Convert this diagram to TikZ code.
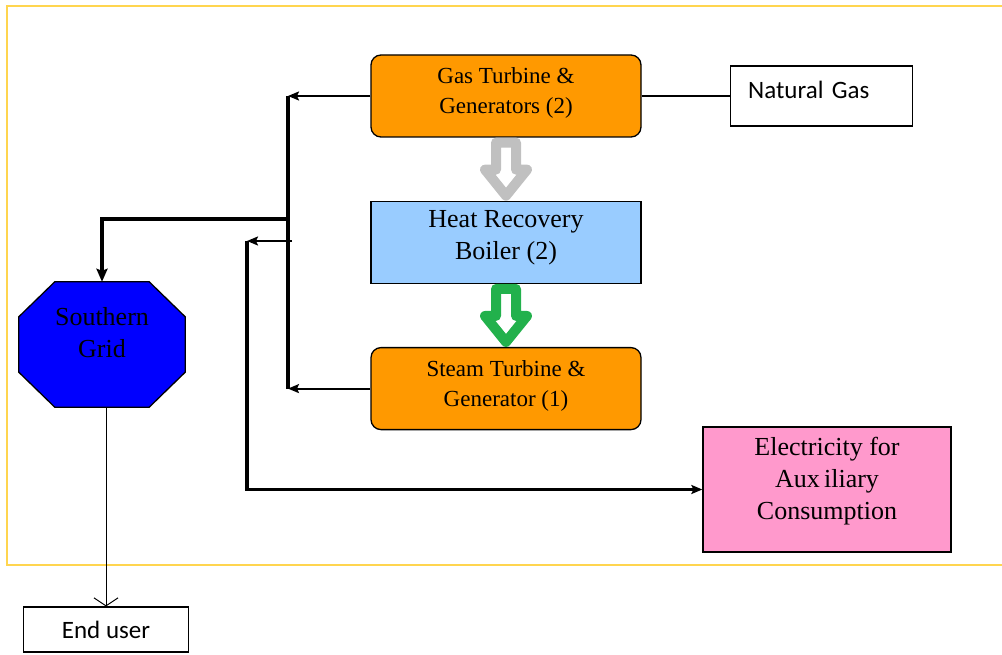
\documentclass[tikz,border=0pt]{standalone}
\usepackage{fontspec}
\setmainfont{Liberation Serif}
\newfontfamily\calibri{Carlito}
\usepackage{tikz}
\usetikzlibrary{arrows.meta, positioning, calc, backgrounds}

\definecolor{turbine}{RGB}{255,153,0}
\definecolor{boiler}{RGB}{153,204,255}
\definecolor{auxpink}{RGB}{255,153,204}
\definecolor{gridblue}{RGB}{0,0,255}
\definecolor{frameyellow}{RGB}{255,213,79}
\definecolor{heatgray}{RGB}{192,192,192}
\definecolor{steamgreen}{RGB}{34,177,76}

\newcommand{\hollowarrow}[3]{%
  \draw[line width=10pt, draw=#1, fill=white, line join=round]
    ($(#2.south)+(-10,5)$) -- ($(#2.south)+(-10,32)$) -- ($(#2.south)+(-21,32)$)
    -- ($(#3.north)+(0,-5)$) -- ($(#2.south)+(21,32)$) -- ($(#2.south)+(10,32)$)
    -- ($(#2.south)+(10,5)$) -- cycle;}

\begin{document}
\begin{tikzpicture}[x=1pt,y=-1pt,>={Stealth[length=11pt,width=9pt,inset=2pt]},
                    node distance=63pt,
                    feed/.style={line width=2pt},
                    bus/.style={line width=3.3pt},
                    thinline/.style={line width=1pt}]
   \tikzstyle{plantbox}=[draw,line width=1.3pt,rounded corners=10pt,fill=turbine,
                         minimum width=270pt,minimum height=82pt,align=center,
                         font=\fontsize{23}{30}\selectfont,text depth=11pt]
   \tikzstyle{boilerbox}=[plantbox,rounded corners=0pt,fill=boiler,
                          font=\fontsize{26}{32}\selectfont,text depth=15pt]
   \tikzstyle{auxbox}=[draw,line width=1.3pt,fill=auxpink,minimum width=248pt,
                       minimum height=125pt,align=center,
                       font=\fontsize{26}{32}\selectfont,text depth=22pt]
   \tikzstyle{gridbox}=[minimum width=166pt,minimum height=125pt,align=center,
                        font=\fontsize{26}{32}\selectfont,text depth=25pt]
   \tikzstyle{gasbox}=[draw,line width=1.1pt,minimum height=60pt,inner xsep=18pt,
                       text width=146pt,align=left,font=\calibri\fontsize{25}{30}\selectfont,
                       text depth=13pt]
   \tikzstyle{userbox}=[draw,line width=1.1pt,minimum width=165pt,minimum height=45pt,
                        font=\calibri\fontsize{25}{30}\selectfont]

   \useasboundingbox (0,0) rectangle (1002,655);
   \draw[frameyellow,line width=2.2pt] (1004,6) -| (7,565) -- (1004,565);

   \node[plantbox]               (gt)   at (506,96)      {Gas Turbine \&\\Generators (2)};
   \node[boilerbox,below=of gt]  (hrb)                   {Heat Recovery\\Boiler (2)};
   \node[plantbox,below=of hrb]  (st)                    {Steam Turbine \&\\Generator (1)};
   \node[gasbox,right=88pt of gt] (gas)                  {Natural Gas};
   \node[auxbox]                 (aux)  at (827,489.5)   {Electricity for\\Aux\,iliary\\Consumption};
   \node[gridbox]                (grid) at (102,344.5)   {Southern\\Grid};
   \node[userbox]                (user) at (106,629.5)   {End user};

   \begin{scope}[on background layer]
     \draw[fill=gridblue,line width=1.3pt]
       ($(grid.north west)+(36,0)$) -- ($(grid.north east)+(-36,0)$)
       -- ($(grid.north east)+(0,35)$) -- ($(grid.south east)+(0,-35)$)
       -- ($(grid.south east)+(-36,0)$) -- ($(grid.south west)+(36,0)$)
       -- ($(grid.south west)+(0,-35)$) -- ($(grid.north west)+(0,35)$) -- cycle;
   \end{scope}

   \coordinate (bus)     at (288,0);
   \coordinate (tap)     at (288,219);
   \coordinate (auxtap)  at (292,241);
   \coordinate (auxturn) at (247,241);

   \hollowarrow{heatgray}{gt}{hrb}
   \hollowarrow{steamgreen}{hrb}{st}

   \draw[feed] (gt.east) -- (gas.west);
   \draw[feed,->] (gt.west) -- (gt.west -| bus);
   \draw[feed,->] (st.west) -- (st.west -| bus);
   \draw[bus] (gt.west -| bus) -- (st.west -| bus);
   \draw[bus,-{Stealth[length=13pt,width=11pt,inset=2pt]}] (tap) -| (grid.north);
   \draw[feed,->] (auxtap) -- (auxturn);
   \draw[bus,->] (auxturn) |- (aux.west);
   \draw[thinline,-{Straight Barb[length=8pt,width=24pt]}] (grid.south -| user.north) -- (user.north);
\end{tikzpicture}
\end{document}
